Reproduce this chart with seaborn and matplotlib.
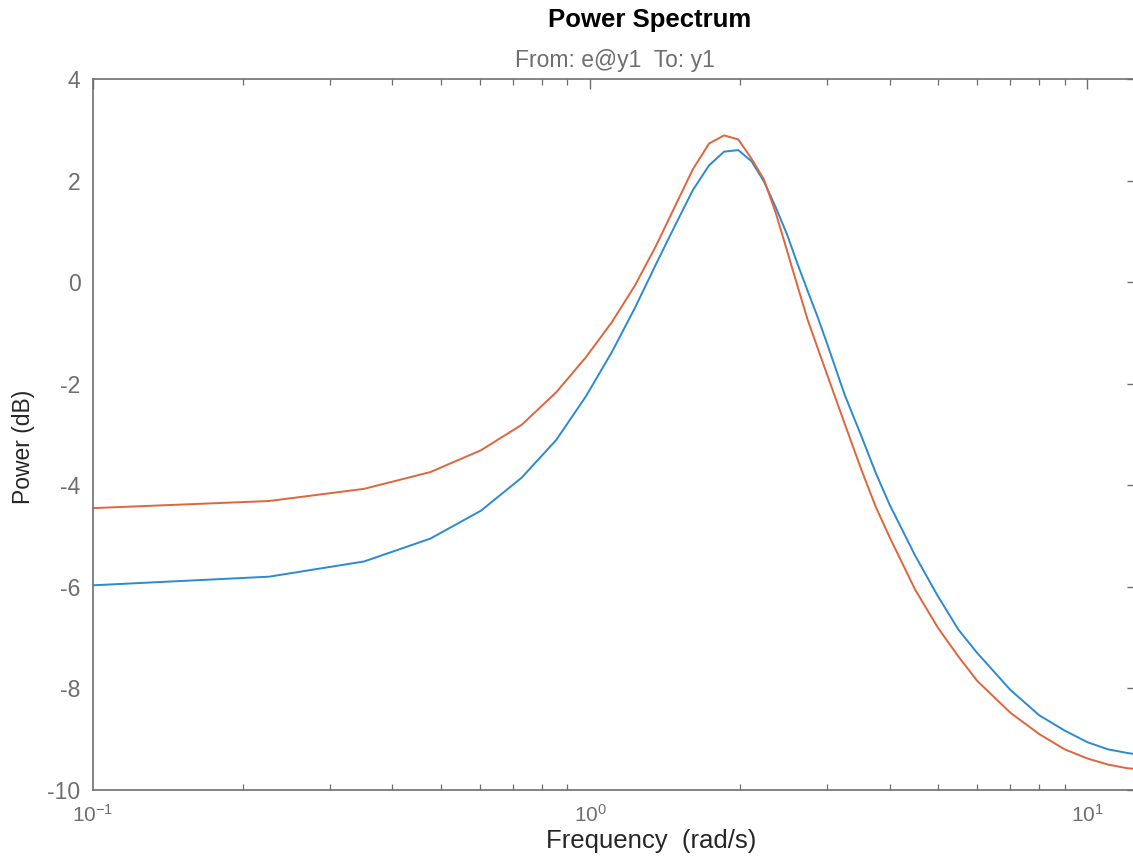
import numpy as np
import pandas as pd
import matplotlib
matplotlib.use("Agg")
import matplotlib.pyplot as plt
import matplotlib.ticker as mticker
import seaborn as sns

# frekvencije (rad/s) i snaga (dB) ocitane sa slike
freq = [0.1, 0.226, 0.351, 0.477, 0.603, 0.728, 0.854, 0.98,
        1.105, 1.231, 1.357, 1.482, 1.608, 1.734, 1.859, 1.985,
        2.111, 2.236, 2.362, 2.488, 2.614, 2.739, 2.865, 2.99,
        3.25, 3.5, 3.75, 4.0, 4.5, 5.0, 5.5, 6.0,
        7.0, 8.0, 9.0, 10.0, 11.0, 12.0, 12.566]

power_blue = [-5.97, -5.80, -5.50, -5.05, -4.50, -3.85, -3.11, -2.25,
              -1.38, -0.50, 0.36, 1.12, 1.81, 2.30, 2.57, 2.60,
              2.38, 1.98, 1.47, 0.94, 0.35, -0.18, -0.68, -1.19,
              -2.22, -3.00, -3.75, -4.38, -5.38, -6.18, -6.84, -7.30,
              -8.03, -8.53, -8.83, -9.06, -9.20, -9.27, -9.30]

power_orange = [-4.45, -4.31, -4.07, -3.74, -3.31, -2.81, -2.17, -1.48,
                -0.79, -0.06, 0.72, 1.50, 2.22, 2.73, 2.89, 2.81,
                2.43, 2.02, 1.36, 0.62, -0.09, -0.75, -1.29, -1.80,
                -2.79, -3.66, -4.42, -5.02, -6.05, -6.80, -7.37, -7.85,
                -8.48, -8.90, -9.20, -9.38, -9.50, -9.57, -9.59]

y_ticks = [-10, -8, -6, -4, -2, 0, 2, 4]

df = pd.DataFrame({"freq": freq * 2,
                   "power": power_blue + power_orange,
                   "model": ["blue"] * len(freq) + ["orange"] * len(freq)})

sns.set_theme(style="white")
plt.rcParams["font.family"] = ["Liberation Sans", "DejaVu Sans"]

gray = "#6e6e6e"

fig = plt.figure(figsize=(11.33, 8.58), dpi=100)
ax = fig.add_axes([0.0821, 0.0793, 0.9212, 0.8286])

sns.lineplot(data=df, x="freq", y="power", hue="model",
             palette={"blue": "#2a8ad2", "orange": "#e0643c"},
             linewidth=1.4, legend=False, ax=ax, sort=False)

ax.set_xscale("log")
ax.set_xlim(0.1, 12.566)
ax.set_ylim(-10, 4)
ax.set_yticks(y_ticks)
ax.set_yticklabels([str(t) for t in y_ticks])
ax.xaxis.set_major_locator(mticker.LogLocator(base=10))
ax.xaxis.set_major_formatter(mticker.LogFormatterMathtext())
ax.xaxis.set_minor_locator(mticker.LogLocator(base=10, subs=np.arange(2, 10)))
ax.xaxis.set_minor_formatter(mticker.NullFormatter())

for s in ax.spines.values():
    s.set_color(gray)
    s.set_linewidth(1.2)

ax.tick_params(axis="both", which="major", direction="in", length=7,
               width=1.0, color=gray, labelcolor=gray, labelsize=16.5,
               top=True, right=True)
ax.tick_params(axis="x", which="minor", direction="in", length=4,
               width=0.9, color=gray, top=True, bottom=True)
ax.tick_params(axis="y", pad=9)
ax.tick_params(axis="x", labelsize=15, pad=10)

ax.set_xlabel("Frequency  (rad/s)", fontsize=18.5, color="#262626")
ax.xaxis.set_label_coords(0.535, -0.0545)
ax.set_ylabel("Power (dB)", fontsize=16.5, color="#262626")
ax.yaxis.set_label_coords(-0.056, 0.482)

fig.text(0.5737, 0.9767, "Power Spectrum", ha="center", va="center",
         fontsize=18.5, fontweight="bold", color="black")
fig.text(0.5424, 0.930, "From: e@y1  To: y1", ha="center", va="center",
         fontsize=16.5, color=gray)

fig.savefig("out.png", dpi=100)
